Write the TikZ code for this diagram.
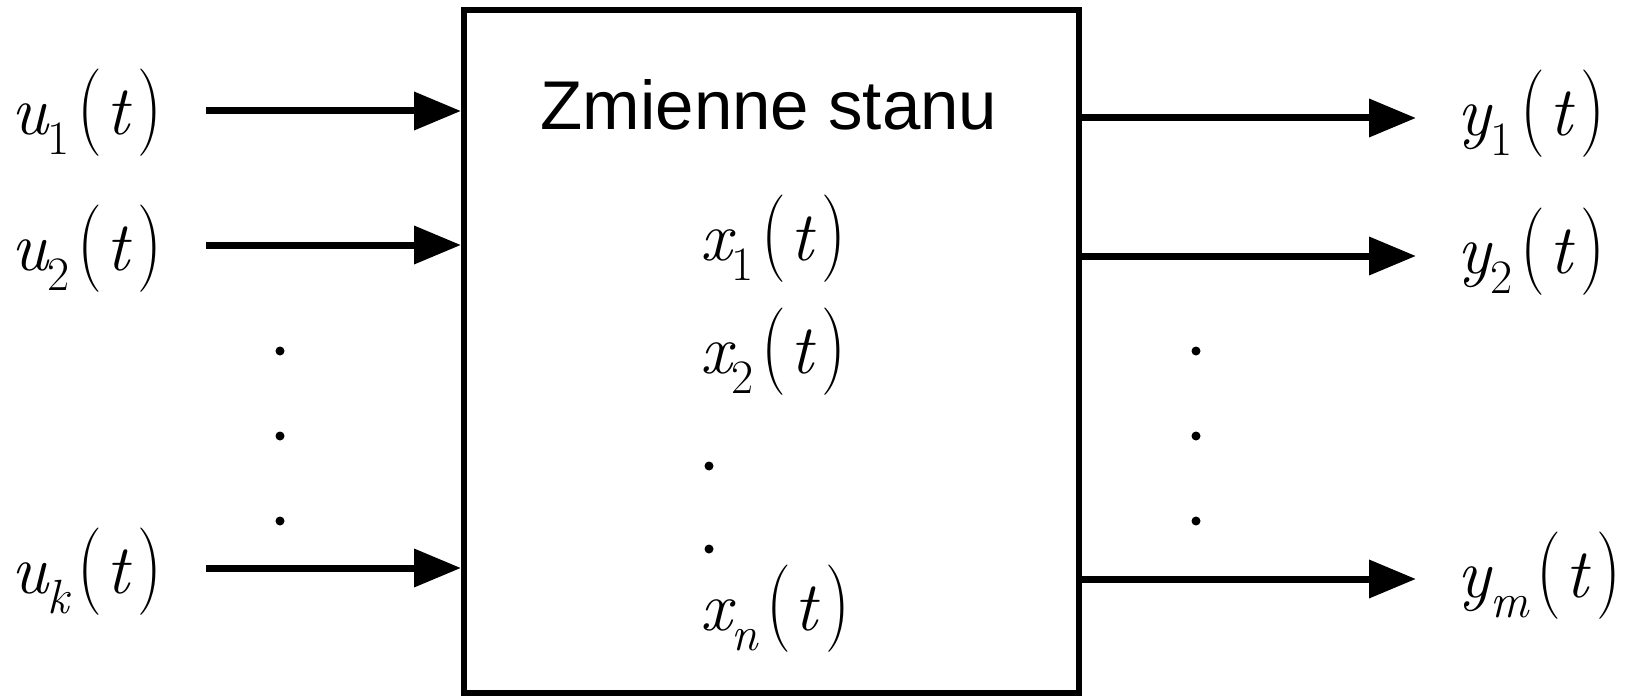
\documentclass[tikz,border=0pt]{standalone}
\usepackage{fontspec}
\setmainfont{Liberation Sans}
\newfontfamily\lmfont{Latin Modern Roman}
\usetikzlibrary{arrows.meta}
\newcommand{\sigl}[2]{{\lmfont\itshape #1}\raisebox{-20pt}{\fontsize{48}{52}\selectfont\lmfont #2}\kern8pt\scalebox{1}[1.25]{\lmfont(}\kern4pt{\lmfont\itshape t}\kern8pt\scalebox{1}[1.25]{\lmfont)}}
\begin{document}
\begin{tikzpicture}[x=1pt,y=-1pt,
  arr/.style={line width=7pt,-{Triangle[length=47pt,width=37pt]}},
  lab/.style={inner sep=0pt,anchor=base west,font=\fontsize{70}{76}\selectfont},
  title/.style={inner sep=0pt,anchor=base,font=\fontsize{69}{76}\selectfont},
  dotc/.style={circle,fill=black,inner sep=0pt,minimum size=9pt},
  blk/.style={draw,line width=6pt,minimum width=615pt,minimum height=683pt,inner sep=0pt}]
\useasboundingbox (0,0) rectangle (1634,698);
\node[blk] (box) at (771.5,351.5) {};
% inputs
\node[lab] (u1) at (11,135) {\sigl{u}{1}};
\node[lab] (u2) at (11,270) {\sigl{u}{2}};
\node[lab] (uk) at (11,593) {\sigl{u}{\itshape k}};
\coordinate (a1) at (206,111);
\coordinate (a2) at (206,245);
\coordinate (ak) at (206,568);
\draw[arr] (a1) -- (a1 -| box.west);
\draw[arr] (a2) -- (a2 -| box.west);
\draw[arr] (ak) -- (ak -| box.west);
\node[dotc] (ld1) at (280,351) {};
\node[dotc] (ld2) at (280,436) {};
\node[dotc] (ld3) at (280,521) {};
% inside
\node[title] (zs) at (769,130) {Zmienne stanu};
\node[lab] (x1) at (700,260) {\sigl{x}{1}};
\node[lab] (x2) at (700,373) {\sigl{x}{2}};
\node[dotc] (md1) at (709,466) {};
\node[dotc] (md2) at (709,549) {};
\node[lab] (xn) at (700,630) {\sigl{x}{\itshape n}};
% outputs
\coordinate (b1) at (1416,118);
\coordinate (b2) at (1416,256);
\coordinate (bm) at (1416,579);
\draw[arr] (b1 -| box.east) -- (b1);
\draw[arr] (b2 -| box.east) -- (b2);
\draw[arr] (bm -| box.east) -- (bm);
\node[dotc] (rd1) at (1196,351) {};
\node[dotc] (rd2) at (1196,436) {};
\node[dotc] (rd3) at (1196,521) {};
\node[lab] (y1) at (1457,136) {\sigl{y}{1}};
\node[lab] (y2) at (1457,273) {\sigl{y}{2}};
\node[lab] (ym) at (1457,597) {\sigl{y}{\itshape m}};
\end{tikzpicture}
\end{document}
